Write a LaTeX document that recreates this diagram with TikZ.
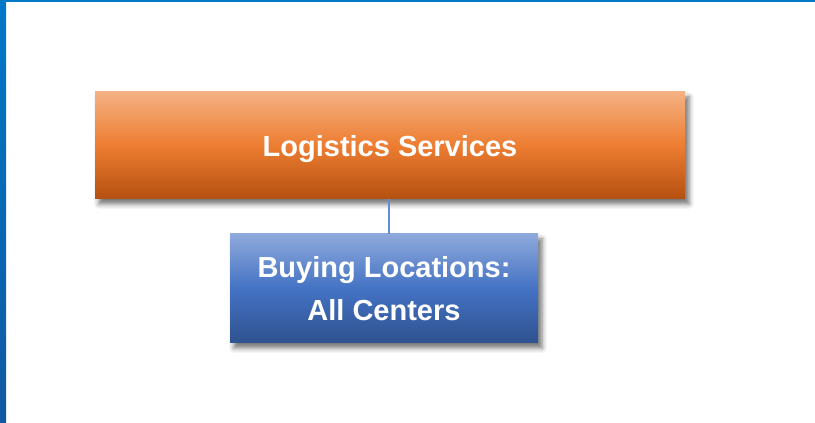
\documentclass[tikz,border=0pt]{standalone}
\usepackage{fontspec}
\setmainfont{Liberation Sans}
\usepackage{tikz}
\usetikzlibrary{shadows.blur}
\definecolor{frameblue}{RGB}{0,120,200}
\definecolor{framedark}{RGB}{17,89,160}
\definecolor{orangetop}{RGB}{244,177,131}
\definecolor{orangemid}{RGB}{237,125,49}
\definecolor{orangebot}{RGB}{180,80,16}
\definecolor{bluetop}{RGB}{142,169,219}
\definecolor{bluemid}{RGB}{68,114,196}
\definecolor{bluebot}{RGB}{47,82,143}
\definecolor{linkblue}{RGB}{100,140,212}

\begin{document}
\begin{tikzpicture}[x=1pt, y=1pt,
  every node/.style = {align=center, text=white, inner sep=0pt,
    font=\fontsize{29}{43}\selectfont\bfseries,
    blur shadow={shadow xshift=4pt, shadow yshift=-5pt, shadow blur radius=5pt, shadow opacity=55}},
  orangebox/.style = {minimum width=590pt, minimum height=107pt, text depth=0pt,
    top color=orangetop, bottom color=orangebot, middle color=orangemid},
  bluebox/.style = {minimum width=308pt, minimum height=109pt,
    top color=bluetop, bottom color=bluebot, middle color=bluemid}]
  \useasboundingbox (0,0) rectangle (815,423);
  \fill [frameblue] (0,421) rectangle (815,423);
  \shade [top color=frameblue, bottom color=framedark] (0,0) rectangle (6,423);
  \node [orangebox] (logistics) at (390,277.5) {Logistics Services};
  \node [bluebox] (buying) at (384,134.5) {Buying Locations:\\All Centers};
  \coordinate (tap) at (389,0);
  \path [draw, linkblue, line width=1.2pt] (logistics.south -| tap) -- (buying.north -| tap);
\end{tikzpicture}
\end{document}
